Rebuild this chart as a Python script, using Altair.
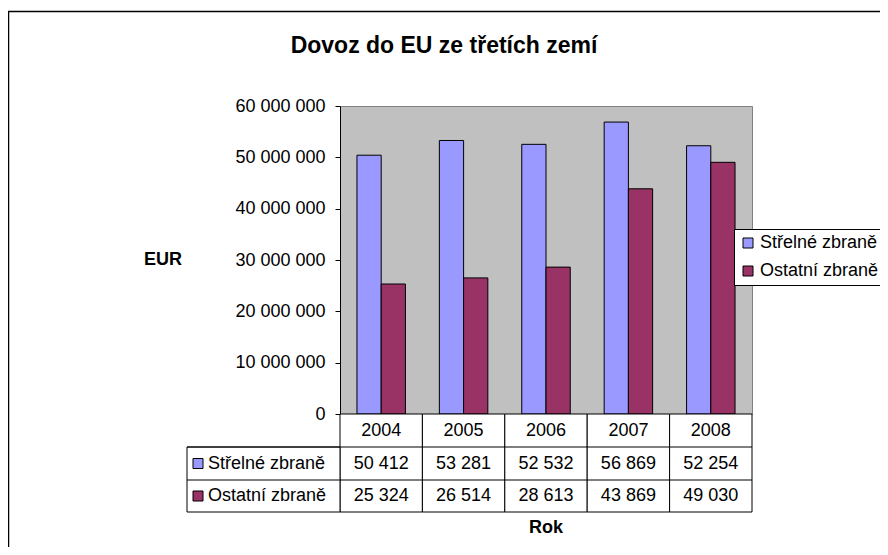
import altair as alt
import pandas as pd

# ---- data ----
roky = ["2004", "2005", "2006", "2007", "2008"]
serie = ["Střelné zbraně", "Ostatní zbraně"]
strelne = [50412, 53281, 52532, 56869, 52254]   # tis. EUR
ostatni = [25324, 26514, 28613, 43869, 49030]   # tis. EUR
barvy = ["#9999FF", "#993366"]
osa_y = [0, 10000000, 20000000, 30000000, 40000000, 50000000, 60000000]
nadpis = "Dovoz do EU ze třetích zemí"
osa_y_nazev = "EUR"
osa_x_nazev = "Rok"

rows = []
for s, vals in zip(serie, [strelne, ostatni]):
    for r, v in zip(roky, vals):
        rows.append({"rok": r, "serie": s, "eur": v * 1000,
                     "popis": f"{v:,}".replace(",", " ")})
df = pd.DataFrame(rows)
one = pd.DataFrame({"k": [0]})

FONT = "Liberation Sans"
W, H = 412, 308
ROW = [H + 0, H + 33, H + 66, H + 98]
LEFT = -153

xenc = alt.X("rok:N", scale=alt.Scale(domain=roky, paddingInner=0, paddingOuter=0), axis=None)

frame = alt.Chart(one).mark_rect(fill="transparent", stroke="black", strokeWidth=1.5).encode(
    x=alt.value(-331.5), x2=alt.value(700), y=alt.value(-94.5), y2=alt.value(700))

bars = alt.Chart(df).mark_bar(stroke="black", strokeWidth=1).encode(
    x=xenc,
    xOffset=alt.XOffset("serie:N", scale=alt.Scale(domain=serie, paddingInner=0, paddingOuter=0.7)),
    y=alt.Y("eur:Q", scale=alt.Scale(domain=[0, 60000000], nice=False),
            axis=alt.Axis(values=osa_y, title=None, grid=False, domainColor="black",
                          tickColor="black", tickSize=5, labelFontSize=18, labelPadding=10,
                          labelFont=FONT, labelColor="black",
                          labelExpr="replace(format(datum.value, ','), /,/g, ' ')")),
    fill=alt.Fill("serie:N", scale=alt.Scale(domain=serie, range=barvy),
                  legend=alt.Legend(orient="none", legendX=394, legendY=123, title=None,
                                    symbolType="square", symbolSize=100,
                                    symbolStrokeColor="black", symbolStrokeWidth=1,
                                    labelFontSize=18, labelFont=FONT, labelColor="black",
                                    strokeColor="black", fillColor="white", padding=5,
                                    rowPadding=10, labelOffset=3)),
)

cells = alt.Chart(pd.DataFrame({"rok": roky})).mark_rect(
    fill="white", stroke="black", strokeWidth=1).encode(
    x=xenc, y=alt.value(ROW[0]), y2=alt.value(ROW[3]))

labelcol = alt.Chart(one).mark_rect(fill="white", stroke="black", strokeWidth=1).encode(
    x=alt.value(LEFT), x2=alt.value(0), y=alt.value(ROW[1]), y2=alt.value(ROW[3]))

hrules = [alt.Chart(one).mark_rule(color="black", strokeWidth=1).encode(
    x=alt.value(LEFT), x2=alt.value(W), y=alt.value(yv)) for yv in (ROW[1], ROW[2])]

years_txt = alt.Chart(pd.DataFrame({"rok": roky})).mark_text(
    fontSize=18, font=FONT, color="black", baseline="middle").encode(
    x=xenc, y=alt.value((ROW[0] + ROW[1]) / 2), text="rok:N")

val_txt = []
lab_txt = []
for i, s in enumerate(serie):
    yc = (ROW[i + 1] + ROW[i + 2]) / 2
    val_txt.append(alt.Chart(df).transform_filter(alt.datum.serie == s).mark_text(
        fontSize=18, font=FONT, color="black", baseline="middle").encode(
        x=xenc, y=alt.value(yc), text="popis:N"))
    lab_txt.append(alt.Chart(one).mark_text(
        fontSize=18, font=FONT, color="black", baseline="middle", align="left").encode(
        x=alt.value(LEFT + 21), y=alt.value(yc), text=alt.value(s)))
    lab_txt.append(alt.Chart(one).mark_square(
        size=100, filled=True, stroke="black", strokeWidth=1, opacity=1).encode(
        x=alt.value(LEFT + 11), y=alt.value(yc), fill=alt.value(barvy[i])))

title_txt = alt.Chart(one).mark_text(
    fontSize=23, font=FONT, fontWeight="bold", color="black", baseline="middle").encode(
    x=alt.value(104), y=alt.value(-60), text=alt.value(nadpis))
eur_txt = alt.Chart(one).mark_text(
    fontSize=18, font=FONT, fontWeight="bold", color="black", baseline="middle").encode(
    x=alt.value(-177), y=alt.value(154), text=alt.value(osa_y_nazev))
rok_txt = alt.Chart(one).mark_text(
    fontSize=18, font=FONT, fontWeight="bold", color="black", baseline="middle").encode(
    x=alt.value(206), y=alt.value(422), text=alt.value(osa_x_nazev))

chart = alt.layer(
    frame, bars, cells, labelcol, *hrules, years_txt, *val_txt, *lab_txt,
    title_txt, eur_txt, rok_txt
).properties(
    width=W, height=H,
    autosize=alt.AutoSizeParams(type="none"),
    padding={"left": 332, "top": 98, "right": 128, "bottom": 133},
    background="white",
).configure_view(fill="#C0C0C0", stroke="#808080", strokeWidth=1)

chart.save("out.html", embed_options={"renderer": "svg", "actions": False})
